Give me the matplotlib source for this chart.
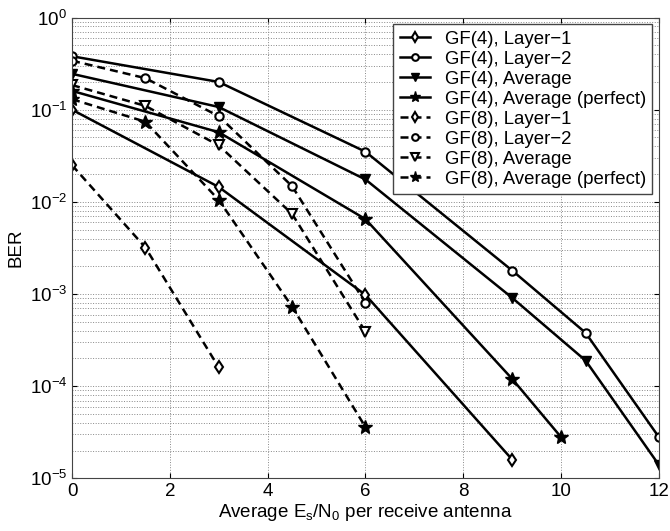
import matplotlib
matplotlib.use("Agg")
import matplotlib.pyplot as plt
from matplotlib.ticker import LogLocator, NullFormatter

plt.rcParams["font.family"] = ["Liberation Sans", "DejaVu Sans"]
plt.rcParams["mathtext.fontset"] = "custom"
plt.rcParams["mathtext.rm"] = "Liberation Sans"
plt.rcParams["mathtext.it"] = "Liberation Sans"

# GF(4) curves (solid)
snr_gf4_l1 = [0, 3, 6, 9]
ber_gf4_l1 = [0.1, 0.0145, 0.00098, 1.6e-5]
snr_gf4_l2 = [0, 3, 6, 9, 10.5, 12]
ber_gf4_l2 = [0.38, 0.20, 0.035, 0.0018, 3.8e-4, 2.8e-5]
snr_gf4_avg = [0, 3, 6, 9, 10.5, 12]
ber_gf4_avg = [0.245, 0.107, 0.0175, 9.1e-4, 1.9e-4, 1.4e-5]
snr_gf4_perf = [0, 3, 6, 9, 10]
ber_gf4_perf = [0.16, 0.057, 0.0065, 1.2e-4, 2.8e-5]

# GF(8) curves (dashed)
snr_gf8 = [0, 1.5, 3, 4.5, 6]
snr_gf8_l1 = [0, 1.5, 3]
ber_gf8_l1 = [0.025, 0.0032, 1.6e-4]
ber_gf8_l2 = [0.34, 0.22, 0.085, 0.0148, 8.0e-4]
ber_gf8_avg = [0.185, 0.11, 0.041, 0.0074, 3.9e-4]
ber_gf8_perf = [0.13, 0.074, 0.0105, 7.3e-4, 3.6e-5]

fig = plt.figure(figsize=(6.7, 5.31), dpi=100)
ax = fig.add_axes([0.1075, 0.099, 0.876, 0.868])

lw = 1.8
dash = (3.2, 2.0)
ax.semilogy(snr_gf4_l1, ber_gf4_l1, "k-", lw=lw, marker="d", ms=6, mfc="white", mew=1.5, label="GF(4), Layer\u22121")
ax.semilogy(snr_gf4_l2, ber_gf4_l2, "k-", lw=lw, marker="o", ms=6, mfc="white", mew=1.5, label="GF(4), Layer\u22122")
ax.semilogy(snr_gf4_avg, ber_gf4_avg, "k-", lw=lw, marker="v", ms=7.5, mfc="black", label="GF(4), Average")
ax.semilogy(snr_gf4_perf, ber_gf4_perf, "k-", lw=lw, marker="*", ms=10, mfc="black", label="GF(4), Average (perfect)")
ax.semilogy(snr_gf8_l1, ber_gf8_l1, "k--", dashes=dash, lw=lw, marker="d", ms=6, mfc="white", mew=1.5, label="GF(8), Layer\u22121")
ax.semilogy(snr_gf8, ber_gf8_l2, "k--", dashes=dash, lw=lw, marker="o", ms=6, mfc="white", mew=1.5, label="GF(8), Layer\u22122")
ax.semilogy(snr_gf8, ber_gf8_avg, "k--", dashes=dash, lw=lw, marker="v", ms=7.5, mfc="white", mew=1.5, label="GF(8), Average")
ax.semilogy(snr_gf8, ber_gf8_perf, "k--", dashes=dash, lw=lw, marker="*", ms=10, mfc="black", label="GF(8), Average (perfect)")

ax.set_xlim(0, 12)
ax.set_ylim(1e-5, 1)
ax.set_xticks([0, 2, 4, 6, 8, 10, 12])
ax.yaxis.set_major_locator(LogLocator(base=10, numticks=10))
ax.yaxis.set_minor_locator(LogLocator(base=10, subs=range(2, 10), numticks=20))
ax.yaxis.set_minor_formatter(NullFormatter())
ax.tick_params(which="both", direction="in", top=True, right=True, labelsize=13.5)
ax.tick_params(which="minor", length=0)
ax.grid(True, which="major", linestyle=":", color="#888888", lw=0.7)
ax.grid(True, which="minor", axis="y", linestyle=":", color="#888888", lw=0.7)
for s in ax.spines.values():
    s.set_color("#444444")

ax.set_xlabel(r"Average E$_\mathrm{s}$/N$_\mathrm{0}$ per receive antenna", fontsize=13.5, labelpad=1)
ax.set_ylabel("BER", fontsize=13.5, labelpad=4)

leg = ax.legend(loc="upper right", fontsize=13.4, handlelength=1.6, borderaxespad=0.35,
                labelspacing=0.16, handletextpad=0.8, fancybox=False, framealpha=1,
                edgecolor="#444444", markerscale=0.8, borderpad=0.35)
leg.get_frame().set_linewidth(1.0)

fig.savefig("out.png", dpi=100)
